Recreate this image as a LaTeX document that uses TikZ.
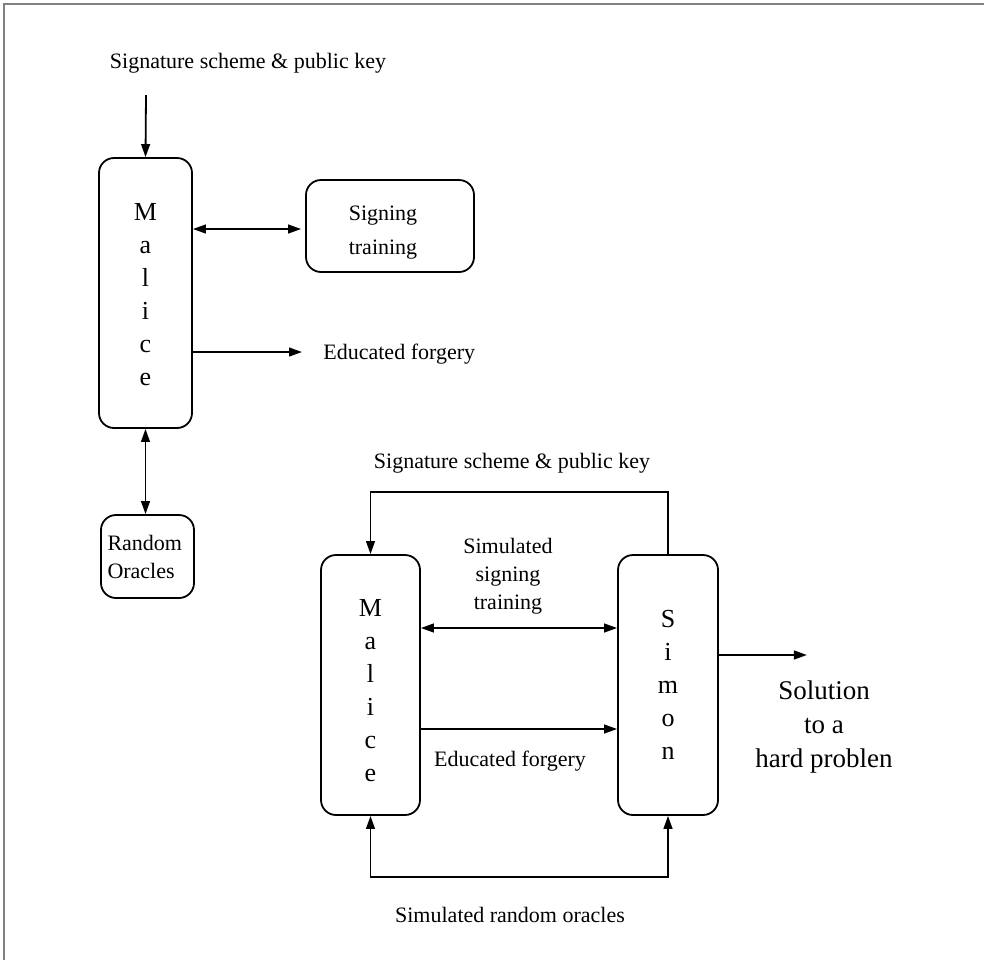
\documentclass[tikz,border=0pt]{standalone}
\usepackage{fontspec}
\setmainfont{Liberation Serif}
\usetikzlibrary{positioning, arrows.meta}

\tikzset{
  lbl/.style={font=\fontsize{11}{14}\selectfont, align=center, inner sep=0pt},
  letters/.style={font=\fontsize{13}{16.5}\selectfont, align=center, inner sep=0pt},
  agent/.style={draw, line width=0.9pt, rounded corners=7.5pt, minimum height=130pt},
  oracle/.style={draw, line width=0.9pt, rounded corners=7.5pt, align=center},
  link/.style={line width=0.9pt, -{Triangle[length=6.5pt,width=4.4pt]}},
  dlink/.style={line width=0.9pt, {Triangle[length=6.5pt,width=4.4pt]}-{Triangle[length=6.5pt,width=4.4pt]}}
}

\begin{document}
\begin{tikzpicture}[x=0.5pt, y=-0.5pt]
    \useasboundingbox (0,0) rectangle (984,960);
    \draw[gray, line width=1.1pt] (4,960) -- (4,4) -- (984,4);

    % upper part: Malice alone
    \node[lbl] (keyA) at (248,63) {Signature scheme \& public key};
    \coordinate (keytop) at (146,95);
    \node[agent, minimum width=46.5pt, minimum height=135pt,
          label={[letters, yshift=-1pt]center:M\\a\\l\\i\\c\\e}] (maliceA) at (145.5,293) {};
    \node[oracle, minimum width=84pt, minimum height=46pt,
          label={[lbl, font=\fontsize{11}{17}\selectfont, xshift=-3.5pt, yshift=-3.5pt]center:Signing\\training}] (signing) at (390,226) {};
    \node[lbl, anchor=west] (forgeA) at (323,354) {Educated forgery};
    \node[oracle, minimum width=46.5pt, minimum height=41.5pt, text width=40pt, align=left,
          inner sep=0pt, font=\fontsize{11}{14}\selectfont] (oracles) at (147.5,556.5) {Random\\Oracles};

    \draw[link] (keytop) -- (maliceA.north);
    \draw[dlink, shorten >=2pt] (maliceA.east |- 0,229) -- (signing.west |- 0,229);
    \draw[link] (maliceA.east |- 0,352) -- (302,352);
    \draw[dlink] (maliceA.south) -- (maliceA.south |- oracles.north);

    % lower part: Simon runs Malice
    \node[agent, minimum width=49.5pt,
          label={[letters, yshift=-3pt]center:M\\a\\l\\i\\c\\e}] (maliceB) at (370.5,685) {};
    \node[agent, minimum width=50pt,
          label={[letters]center:S\\i\\m\\o\\n}] (simon) at (668,685) {};
    \node[lbl] (keyB) at (512,463) {Signature scheme \& public key};
    \node[lbl] (simsign) at (508,576) {Simulated\\signing\\training};
    \node[lbl] (forgeB) at (510,761) {Educated forgery};
    \node[lbl, font=\fontsize{13.5}{17}\selectfont] (solution) at (824,727) {Solution\\to a\\hard problen};
    \node[lbl] (simrand) at (510,915) {Simulated random oracles};

    \draw[link] (simon.north) |- ++(0,-62) -| (maliceB.north);
    \draw[dlink] ([yshift=28.5pt]maliceB.east) -- ([yshift=28.5pt]simon.west);
    \draw[link] ([yshift=-22pt]maliceB.east) -- ([yshift=-22pt]simon.west);
    \draw[link] ([yshift=15pt]simon.east) -- ++(88,0);
    \draw[dlink] (maliceB.south) -- ++(0,61) -| (simon.south);
\end{tikzpicture}
\end{document}
